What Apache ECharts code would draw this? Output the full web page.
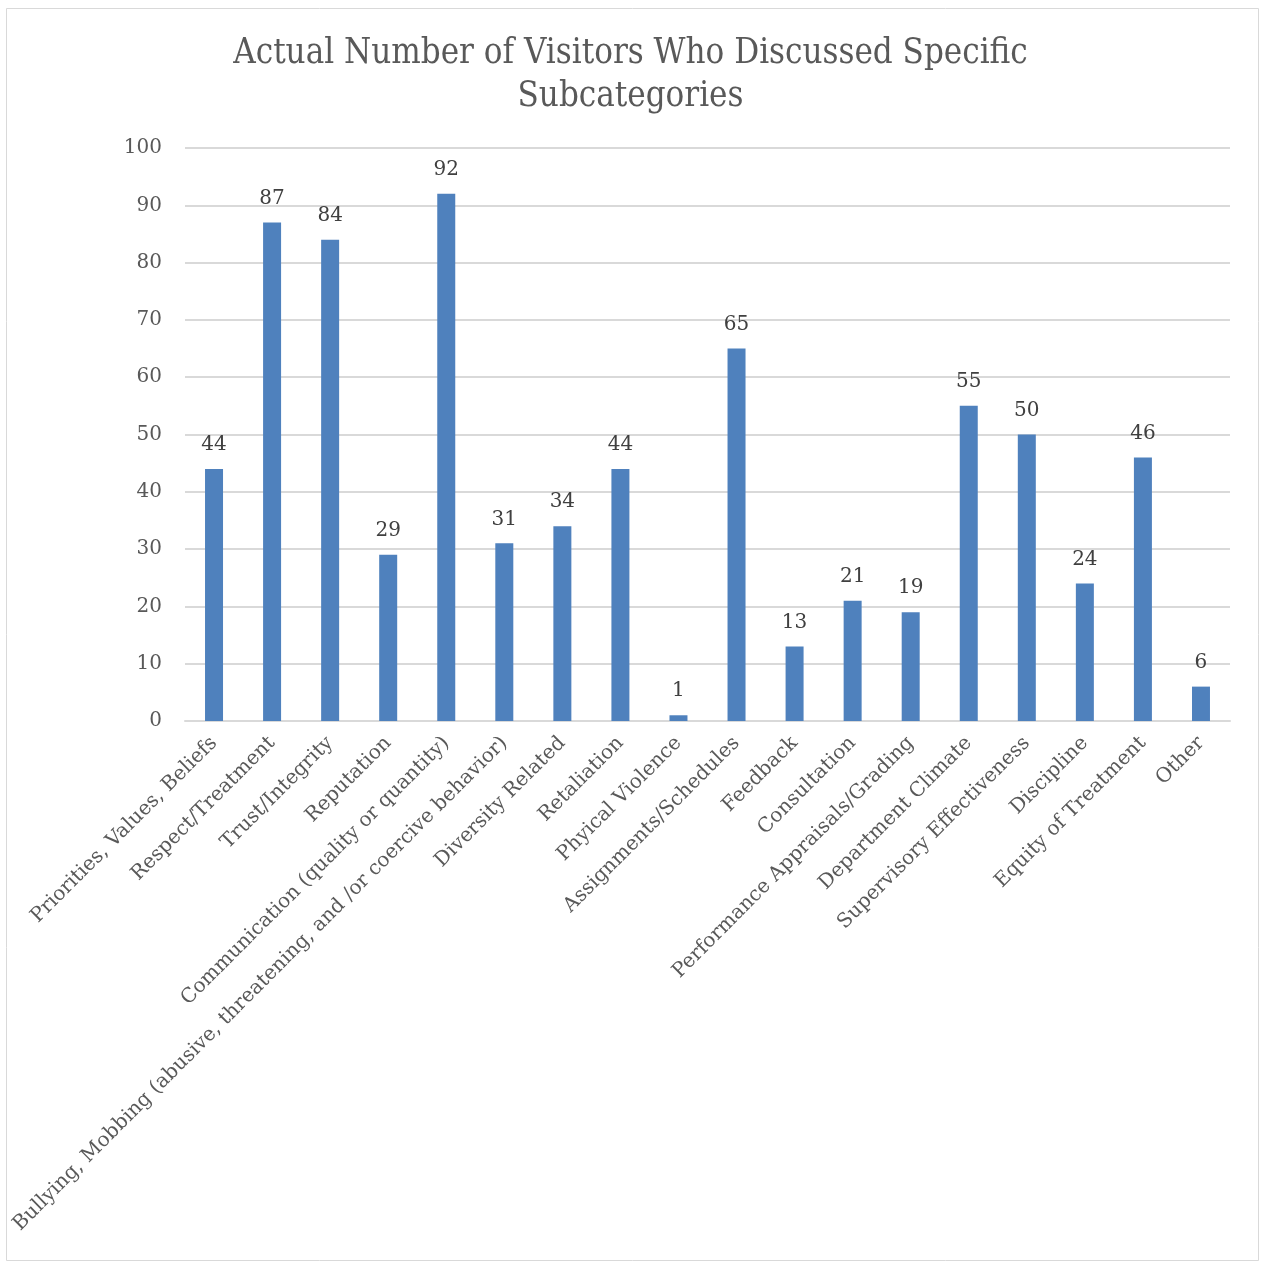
<!DOCTYPE html>
<html>
<head>
<meta charset="utf-8">
<script src="https://cdn.jsdelivr.net/npm/echarts@6/dist/echarts.min.js"></script>
<style>
  html, body { margin: 0; padding: 0; background: #fff; }
  #chart { width: 1261px; height: 1262px; }
</style>
</head>
<body>
<div id="chart"></div>
<script>
const titleText = 'Actual Number of Visitors Who Discussed Specific\nSubcategories';

const categories = [
  'Priorities, Values, Beliefs',
  'Respect/Treatment',
  'Trust/Integrity',
  'Reputation',
  'Communication (quality or quantity)',
  'Bullying, Mobbing (abusive, threatening, and /or coercive behavior)',
  'Diversity Related',
  'Retaliation',
  'Phyical Violence',
  'Assignments/Schedules',
  'Feedback',
  'Consultation',
  'Performance Appraisals/Grading',
  'Department Climate',
  'Supervisory Effectiveness',
  'Discipline',
  'Equity of Treatment',
  'Other'
];

const visitors = [44, 87, 84, 29, 92, 31, 34, 44, 1, 65, 13, 21, 19, 55, 50, 24, 46, 6];

const yTicks = { min: 0, max: 100, interval: 10 };

const serif = '"DejaVu Serif", "Liberation Serif", serif';
const titleSerif = '"DejaVu Serif Condensed", "DejaVu Serif", serif';

const chart = echarts.init(document.getElementById('chart'), null, { renderer: 'canvas' });

chart.setOption({
  backgroundColor: '#ffffff',
  animation: false,
  graphic: [{
    type: 'rect',
    shape: { x: 6.5, y: 8.5, width: 1252, height: 1252 },
    style: { fill: 'none', stroke: '#d9d9d9', lineWidth: 1 },
    silent: true
  }],
  title: {
    text: titleText,
    left: 'center',
    top: 28,
    textStyle: {
      fontFamily: titleSerif,
      fontWeight: 'normal',
      fontSize: 34.6,
      lineHeight: 43,
      color: '#595959'
    }
  },
  grid: { left: 185, right: 31, top: 148, bottom: 541, containLabel: false },
  xAxis: {
    type: 'category',
    data: categories,
    axisLine: { lineStyle: { color: '#d9d9d9', width: 2 } },
    axisTick: { show: false },
    axisLabel: {
      interval: 0,
      rotate: 45,
      margin: 19,
      fontFamily: serif,
      fontSize: 20,
      color: '#595959'
    }
  },
  yAxis: {
    type: 'value',
    min: yTicks.min,
    max: yTicks.max,
    interval: yTicks.interval,
    axisLine: { show: false },
    axisTick: { show: false },
    splitLine: { lineStyle: { color: '#d9d9d9', width: 2 } },
    axisLabel: {
      margin: 23,
      fontFamily: serif,
      fontSize: 20,
      color: '#595959'
    }
  },
  series: [{
    type: 'bar',
    data: visitors,
    barWidth: 18,
    itemStyle: { color: '#4f81bd' },
    label: {
      show: true,
      position: 'top',
      distance: 14,
      fontFamily: serif,
      fontSize: 20,
      color: '#404040'
    }
  }]
});
</script>
</body>
</html>
